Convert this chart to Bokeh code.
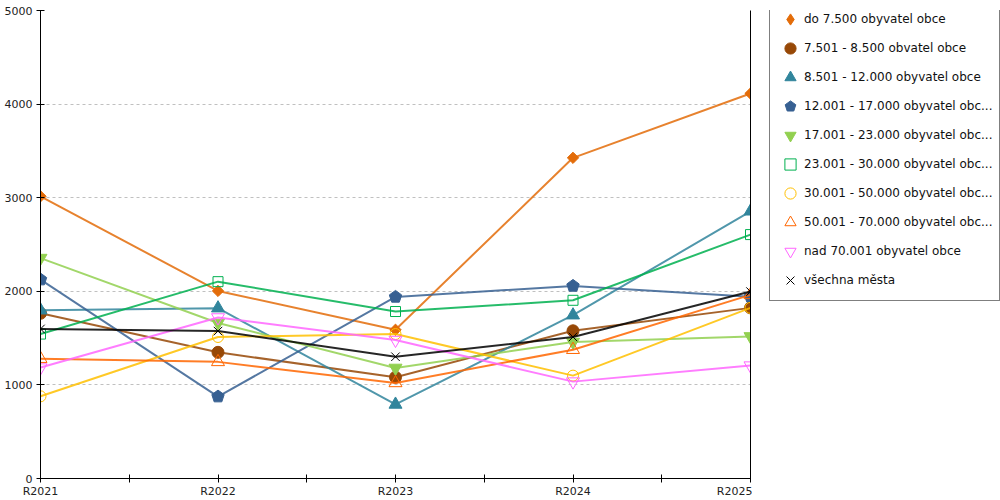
import math
from bokeh.plotting import figure
from bokeh.layouts import row
from bokeh.models import Range1d, LinearAxis, FixedTicker, Legend, LegendItem, ColumnDataSource, Ngon
from bokeh.embed import file_html
from bokeh.resources import INLINE

years = ["R2021", "R2022", "R2023", "R2024", "R2025"]
labels = [
    "do 7.500 obyvatel obce",
    "7.501 - 8.500 obvatel obce",
    "8.501 - 12.000 obyvatel obce",
    "12.001 - 17.000 obyvatel obc...",
    "17.001 - 23.000 obyvatel obc...",
    "23.001 - 30.000 obyvatel obc...",
    "30.001 - 50.000 obyvatel obc...",
    "50.001 - 70.000 obyvatel obc...",
    "nad 70.001 obyvatel obce",
    "všechna města",
]
s_do7500 = [3015, 2004, 1589, 3426, 4113]
s_7501 = [1765, 1348, 1082, 1578, 1823]
s_8501 = [1798, 1820, 791, 1745, 2855]
s_12001 = [2125, 875, 1940, 2057, 1943]
s_17001 = [2355, 1662, 1181, 1458, 1518]
s_23001 = [1543, 2103, 1784, 1904, 2606]
s_30001 = [878, 1512, 1543, 1099, 1823]
s_50001 = [1280, 1246, 1021, 1376, 1962]
s_70001 = [1185, 1720, 1479, 1035, 1206]
s_all = [1598, 1575, 1301, 1512, 1997]

series = [s_do7500, s_7501, s_8501, s_12001, s_17001, s_23001, s_30001, s_50001, s_70001, s_all]
colors = ["#E36C09", "#974806", "#31859C", "#376092", "#92D050",
          "#00B050", "#FFC000", "#FF6600", "#FF66FF", "#000000"]
markers = ["diamond", "circle", "triangle", "house", "inverted_triangle",
           "square", "circle", "triangle", "inverted_triangle", "x"]
filled = [True, True, True, True, True, False, False, False, False, False]
sizes = [14, 12, 13, 12, 13, 10, 11, 13, 13, 12]

FONT = "DejaVu Sans"
xs = list(range(len(years)))

p = figure(width=752, height=500, output_backend="svg", toolbar_location=None,
           x_range=Range1d(0, len(years) - 1), y_range=Range1d(0, 5000),
           min_border_left=40, min_border_right=2, min_border_top=10, min_border_bottom=20)
p.outline_line_color = None
p.background_fill_color = "white"
p.border_fill_color = "white"

xax = p.xaxis[0]
xax.ticker = FixedTicker(ticks=xs, minor_ticks=[i + 0.5 for i in xs[:-1]])
xax.major_label_overrides = {i: y for i, y in enumerate(years)}
yax = p.yaxis[0]
yax.ticker = FixedTicker(ticks=[0, 1000, 2000, 3000, 4000, 5000], minor_ticks=[])
for ax in (xax, yax):
    ax.axis_line_color = "black"
    ax.axis_line_width = 1
    ax.major_tick_line_color = "black"
    ax.minor_tick_line_color = "black"
    ax.major_tick_in = 4
    ax.major_tick_out = 4
    ax.minor_tick_in = 4
    ax.minor_tick_out = 4
    ax.major_label_text_font = FONT
    ax.major_label_text_font_size = "11px"
    ax.major_label_text_color = "#222222"
xax.major_label_standoff = 2
yax.major_label_standoff = 4
p.xgrid.visible = False
p.ygrid.grid_line_color = "#c0c0c0"
p.ygrid.grid_line_dash = "3 3"
p.ygrid.ticker = FixedTicker(ticks=[1000, 2000, 3000, 4000, 5000])

rax = LinearAxis(ticker=FixedTicker(ticks=[]), major_label_text_font_size="0px",
                 major_tick_in=0, major_tick_out=0, minor_tick_in=0, minor_tick_out=0,
                 axis_line_color="black", major_label_standoff=0)
p.add_layout(rax, "right")

# legend panel (its glyph renderers lie outside its visible range)
q = figure(width=248, height=500, output_backend="svg", toolbar_location=None,
           x_range=Range1d(-2, -1), y_range=Range1d(-2, -1),
           min_border_left=0, min_border_right=0, min_border_top=0, min_border_bottom=0,
           x_axis_type=None, y_axis_type=None)
q.outline_line_color = None
q.xgrid.visible = False
q.ygrid.visible = False

def house(fig, src, col, rad):
    g = Ngon(x="x", y="y", radius=rad, radius_units="screen", n=5, angle=0,
             fill_color=col, line_color=col)
    return fig.add_glyph(src, g)

items = []
for vals, col, mk, fl, sz, lab in zip(series, colors, markers, filled, sizes, labels):
    src = ColumnDataSource(dict(x=xs, y=vals))
    p.line("x", "y", source=src, line_color=col, line_width=2, line_alpha=0.85)
    if mk == "house":
        house(p, src, col, 6.5)
        r = house(q, src, col, 6.5)
    else:
        kw = dict(marker=mk, size=sz, fill_color=col if fl else None, line_color=col, line_width=1)
        if mk == "diamond":
            p.scatter("x", "y", source=src, **dict(kw, marker="square", size=8, angle=math.pi / 4))
        else:
            p.scatter("x", "y", source=src, **kw)
        r = q.scatter("x", "y", source=src, **kw)
    items.append(LegendItem(label=lab, renderers=[r]))

legend = Legend(items=items, location=(17, 177),
                label_text_font=FONT, label_text_font_size="12px", label_text_color="#111111",
                glyph_width=28, glyph_height=28, label_height=28, label_standoff=0,
                spacing=1, padding=6, margin=0,
                border_line_color="black", border_line_width=1,
                background_fill_color="white", background_fill_alpha=1)
q.add_layout(legend, "center")

open("out.html", "w").write(file_html(row(p, q), INLINE))
